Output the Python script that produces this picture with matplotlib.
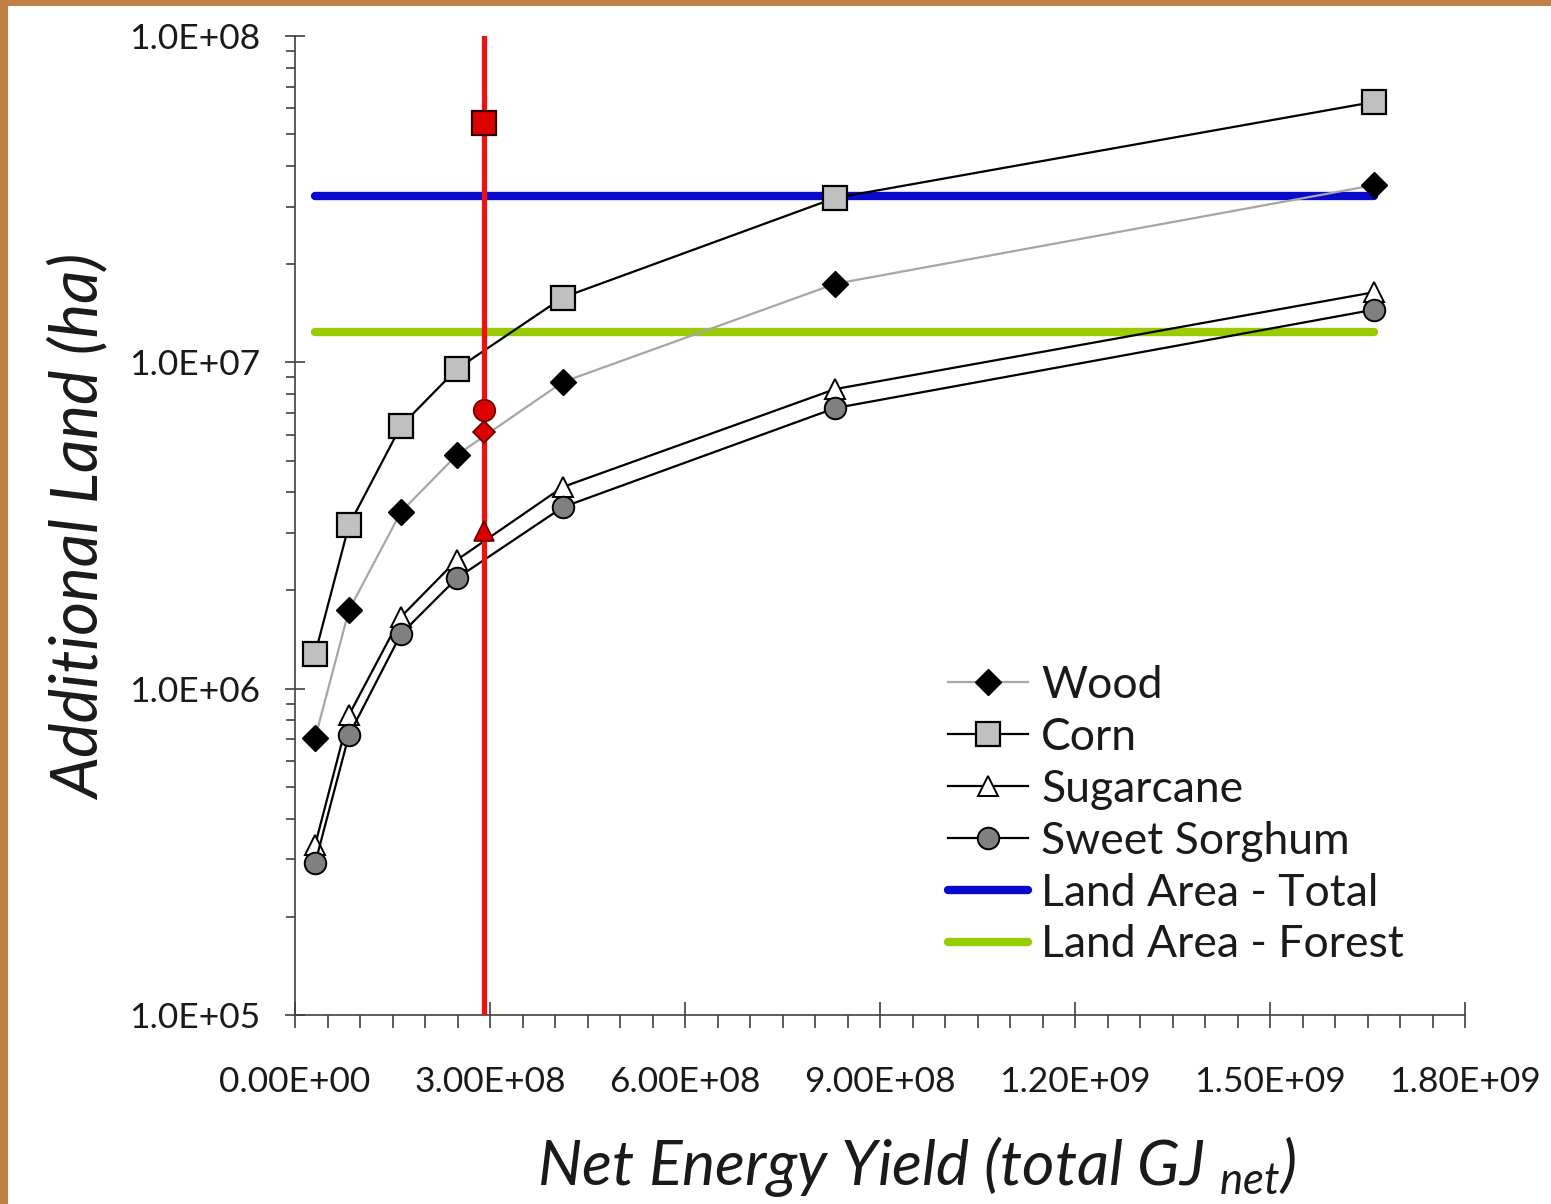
import matplotlib
matplotlib.use('Agg')
import matplotlib.pyplot as plt
from matplotlib.ticker import MultipleLocator, LogLocator, FuncFormatter, NullFormatter
from matplotlib.patches import Rectangle

# ---------------- data ----------------
energy = [3.1e7, 8.3e7, 1.63e8, 2.49e8, 4.12e8, 8.31e8, 1.66e9]
wood = [7.06e5, 1.74e6, 3.48e6, 5.2e6, 8.7e6, 1.74e7, 3.49e7]
corn = [1.28e6, 3.17e6, 6.38e6, 9.54e6, 1.58e7, 3.19e7, 6.28e7]
sugarcane = [3.32e5, 8.3e5, 1.66e6, 2.48e6, 4.15e6, 8.28e6, 1.64e7]
sorghum = [2.92e5, 7.21e5, 1.47e6, 2.18e6, 3.6e6, 7.24e6, 1.45e7]
land_total = 3.23e7
land_forest = 1.24e7
target_energy = 2.9e8
target_corn = 5.41e7
target_sorghum = 7.14e6
target_wood = 6.12e6
target_sugarcane = 3.05e6
series_labels = ["Wood", "Corn", "Sugarcane", "Sweet Sorghum",
                 "Land Area - Total", "Land Area - Forest"]
x_label = "Net Energy Yield (total GJ $_{net}$)"
y_label = "Additional Land (ha)"

# ---------------- style ----------------
plt.rcParams['font.family'] = ['Lato', 'DejaVu Sans']
plt.rcParams['mathtext.fontset'] = 'custom'
plt.rcParams['mathtext.it'] = 'Lato:italic'
plt.rcParams['mathtext.rm'] = 'Lato:italic'

W, H = 1551, 1204
fig = plt.figure(figsize=(W / 100, H / 100), dpi=100)
fig.patch.set_facecolor('#C08046')
fig.patches.append(Rectangle((8 / W, 0), 1, (H - 6) / H, transform=fig.transFigure,
                             facecolor='white', edgecolor='none', zorder=-10))

ax = fig.add_axes([295 / W, (H - 1015) / H, (1465 - 295) / W, (1015 - 36) / H])
ax.set_facecolor('none')

ax.set_yscale('log')
ax.set_xlim(0, 1.8e9)
ax.set_ylim(1e5, 1e8)

# reference lines
ax.plot([energy[0], energy[-1]], [land_total, land_total], color='#0A0ACC', lw=6,
        solid_capstyle='round', zorder=3, label=series_labels[4])
ax.plot([energy[0], energy[-1]], [land_forest, land_forest], color='#99CC00', lw=6,
        solid_capstyle='round', zorder=3, label=series_labels[5])

# series
ax.plot(energy, wood, color='#A6A6A6', lw=1.6, marker='D', ms=13, mfc='black',
        mec='black', mew=1, zorder=4, label=series_labels[0])
ax.plot(energy, corn, color='black', lw=1.6, marker='s', ms=17.5, mfc='#C0C0C0',
        mec='black', mew=1.6, zorder=4, label=series_labels[1])
ax.plot(energy, sugarcane, color='black', lw=1.6, marker='^', ms=14.5, mfc='white',
        mec='black', mew=1.4, zorder=4, label=series_labels[2])
ax.plot(energy, sorghum, color='black', lw=1.6, marker='o', ms=15.5, mfc='#808080',
        mec='black', mew=1.4, zorder=4, label=series_labels[3])

# target line and markers
ax.axvline(target_energy, color='#EE1111', lw=3.8, zorder=5)
ax.plot([target_energy], [target_corn], marker='s', ms=17.5, mfc='#DD0000', mec='#330000',
        mew=1.6, zorder=6, ls='none')
ax.plot([target_energy], [target_sorghum], marker='o', ms=15.5, mfc='#DD0000', mec='#660000',
        mew=1.2, zorder=6, ls='none')
ax.plot([target_energy], [target_wood], marker='D', ms=11, mfc='#DD0000', mec='#660000',
        mew=1.2, zorder=6, ls='none')
ax.plot([target_energy], [target_sugarcane], marker='^', ms=15, mfc='#DD0000', mec='#660000',
        mew=1.2, zorder=6, ls='none')

# axes styling
for s in ['top', 'right']:
    ax.spines[s].set_visible(False)
for s in ['left', 'bottom']:
    ax.spines[s].set_color('#404040')
    ax.spines[s].set_linewidth(1.2)

ax.xaxis.set_major_locator(MultipleLocator(3e8))
ax.xaxis.set_minor_locator(MultipleLocator(5e7))
ax.xaxis.set_major_formatter(FuncFormatter(lambda v, p: format(v, '.2E')))
ax.yaxis.set_major_locator(LogLocator(base=10, numticks=10))
ax.yaxis.set_minor_locator(LogLocator(base=10, subs=range(2, 10), numticks=20))
ax.yaxis.set_major_formatter(FuncFormatter(lambda v, p: format(v, '.1E')))
ax.yaxis.set_minor_formatter(NullFormatter())

ax.tick_params(axis='x', which='major', direction='inout', length=19, width=1.2,
               color='#404040', labelsize=25.5, pad=27)
ax.tick_params(axis='x', which='minor', direction='out', length=9, width=1.2,
               color='#404040')
ax.tick_params(axis='y', which='major', direction='inout', length=14, width=1.2,
               color='#404040', labelsize=25.5, pad=18)
ax.tick_params(axis='y', which='minor', direction='out', length=6.5, width=1.2,
               color='#404040')
for lab in ax.get_xticklabels() + ax.get_yticklabels():
    lab.set_color('#1a1a1a')

# axis titles
fig.text(917 / W, (H - 1185) / H, x_label, ha='center', va='baseline',
         fontsize=45, style='italic', color='#1a1a1a')
fig.text(80 / W, (H - 527) / H, y_label, ha='center', va='center', rotation=90,
         fontsize=47, style='italic', color='#1a1a1a')

# legend
handles, labels = ax.get_legend_handles_labels()
order = [labels.index(l) for l in series_labels]
leg = ax.legend([handles[i] for i in order], [labels[i] for i in order],
                loc='upper left', bbox_to_anchor=(948 / W, (H - 665) / H),
                bbox_transform=fig.transFigure, frameon=False, fontsize=32,
                borderpad=0, borderaxespad=0, handlelength=1.8, handletextpad=0.3,
                labelspacing=0.245)
for t in leg.get_texts():
    t.set_color('#1a1a1a')

fig.savefig('out.png', dpi=100, facecolor=fig.get_facecolor())
